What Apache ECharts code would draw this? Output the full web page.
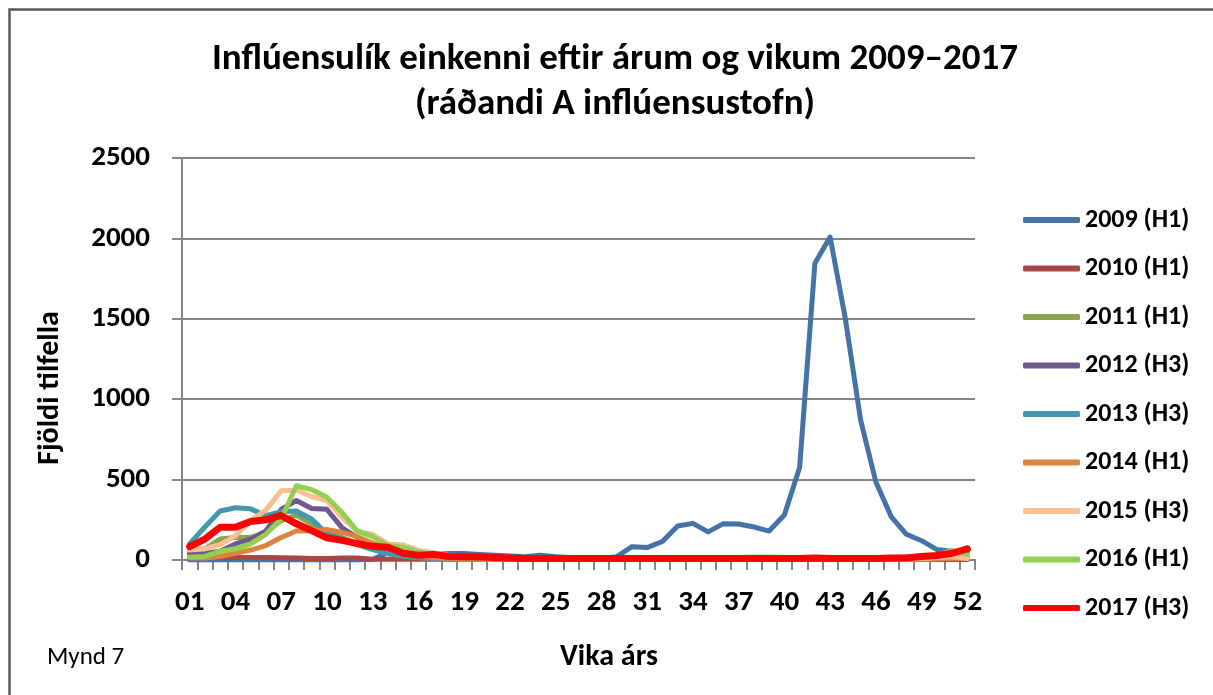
<!DOCTYPE html>
<html>
<head>
<meta charset="utf-8">
<title>Inflúensulík einkenni</title>
<script src="https://cdn.jsdelivr.net/npm/echarts@6/dist/echarts.min.js"></script>
<style>
  html, body { margin: 0; padding: 0; background: #fff; }
  #main { width: 1213px; height: 695px; }
</style>
</head>
<body>
<div id="main"></div>
<script>
// vikur og gildi lesin af myndinni
var weeks = ["01","02","03","04","05","06","07","08","09","10","11","12","13",
  "14","15","16","17","18","19","20","21","22","23","24","25","26",
  "27","28","29","30","31","32","33","34","35","36","37","38","39",
  "40","41","42","43","44","45","46","47","48","49","50","51","52"];
var yTicks = [0, 500, 1000, 1500, 2000, 2500];

var y2009 = [0,0,0,0,0,0,0,0,0,0,0,0,5,45,50,40,35,40,40,35,30,25,20,30,20,15,
  10,8,20,83,77,115,211,228,175,226,224,205,180,280,575,1845,2008,1500,870,485,270,160,120,65,55,45];
var y2010 = [15,18,15,15,15,15,14,12,10,10,12,12,5,5,5,5,4,4,3,3,3,3,3,3,3,3,
  3,3,3,3,3,3,3,3,3,3,3,3,3,3,3,3,3,3,3,3,3,3,3,3,3,3];
var y2011 = [48,70,130,140,140,170,245,280,225,175,140,100,70,40,25,15,10,6,5,5,5,5,5,5,5,5,
  5,5,5,5,5,5,5,5,5,5,5,5,5,5,5,5,5,5,5,5,5,5,8,10,12,15];
var y2012 = [37,40,55,100,130,180,315,370,320,315,200,140,100,60,40,25,15,10,5,5,5,5,5,5,5,5,
  5,5,5,5,5,5,5,5,5,5,5,5,5,5,5,5,5,5,5,5,5,5,5,8,10,12];
var y2013 = [100,205,305,325,318,275,300,305,255,165,130,95,65,40,25,15,10,5,5,5,5,5,5,5,5,5,
  5,5,5,5,5,5,5,5,5,5,5,5,5,5,5,5,5,5,5,5,5,5,5,8,10,12];
var y2014 = [12,12,22,42,62,90,140,180,182,190,172,145,105,70,45,28,15,10,5,5,5,5,5,5,5,5,
  5,5,5,5,5,5,5,5,5,5,5,5,5,5,5,5,5,5,5,5,5,5,5,8,10,12];
var y2015 = [62,70,96,150,245,310,430,435,395,370,265,178,160,100,95,60,45,30,20,15,10,10,10,10,10,8,
  8,8,8,8,8,8,8,8,8,8,8,8,8,8,8,8,8,8,8,8,8,8,10,15,20,10];
var y2016 = [17,22,55,70,100,160,255,462,438,390,295,180,145,90,80,50,35,20,15,10,10,10,10,10,10,10,
  10,10,12,15,15,15,12,12,12,15,15,18,18,15,12,12,12,12,15,15,15,18,25,30,60,35];
var y2017 = [83,130,204,204,240,250,277,225,183,138,122,102,85,80,42,30,35,22,20,18,15,12,10,10,10,10,
  10,10,10,10,10,10,10,10,10,10,10,10,10,10,10,12,10,10,10,10,12,13,22,28,42,69];

var seriesNames = ["2009 (H1)","2010 (H1)","2011 (H1)","2012 (H3)","2013 (H3)",
  "2014 (H1)","2015 (H3)","2016 (H1)","2017 (H3)"];
var seriesData = [y2009, y2010, y2011, y2012, y2013, y2014, y2015, y2016, y2017];
var colors = ["#4572A7","#AA4643","#89A54E","#71588F","#4198AF","#DB843D","#FAC090","#92D050","#FF0000"];
var widths = [5,5,5,5,5,5,5,5,7];

var FONT = "Carlito, Lato, 'Open Sans', sans-serif";
var axisGrey = "#868686";

var chart = echarts.init(document.getElementById('main'));

var series = seriesNames.map(function (name, i) {
  return {
    name: name,
    type: 'line',
    data: seriesData[i],
    showSymbol: false,
    symbol: 'none',
    smooth: false,
    animation: false,
    lineStyle: { color: colors[i], width: widths[i], cap: 'round', join: 'round' },
    itemStyle: { color: colors[i] }
  };
});

var option = {
  backgroundColor: '#fff',
  color: colors,
  animation: false,
  title: {
    text: 'Inflúensulík einkenni eftir árum og vikum 2009\u20132017\n(ráðandi A inflúensustofn)',
    left: 610,
    textAlign: 'center',
    top: 32,
    textStyle: { fontFamily: FONT, fontWeight: 'bold', fontSize: 37, lineHeight: 45, color: '#000' }
  },
  legend: {
    orient: 'vertical',
    left: 1023,
    top: 207,
    padding: 0,
    icon: 'roundRect',
    itemWidth: 57,
    itemHeight: 6,
    itemGap: 22.5,
    data: seriesNames,
    selectedMode: false,
    textStyle: { fontFamily: FONT, fontWeight: 'bold', fontSize: 26, lineHeight: 24, color: '#000' }
  },
  grid: { left: 182, right: 238, top: 158, bottom: 135, containLabel: false },
  xAxis: {
    type: 'category',
    data: weeks,
    boundaryGap: true,
    axisLine: { lineStyle: { color: axisGrey, width: 2 } },
    axisTick: { show: true, interval: 0, length: 10, lineStyle: { color: axisGrey, width: 2 } },
    axisLabel: {
      interval: 2, margin: 28,
      fontFamily: FONT, fontWeight: 'bold', fontSize: 29, color: '#000'
    },
    splitLine: { show: false }
  },
  yAxis: {
    type: 'value',
    min: yTicks[0],
    max: yTicks[yTicks.length - 1],
    interval: 500,
    axisLine: { show: true, lineStyle: { color: axisGrey, width: 2 } },
    axisTick: { show: true, length: 10, lineStyle: { color: axisGrey, width: 2 } },
    axisLabel: {
      margin: 32, fontFamily: FONT, fontWeight: 'bold', fontSize: 29, color: '#000',
      formatter: function (v) { return String(v); }
    },
    splitLine: { show: true, lineStyle: { color: axisGrey, width: 2 } }
  },
  graphic: [
    {
      type: 'rect', left: 7, top: 7, silent: true,
      shape: { width: 1205, height: 700 },
      style: { fill: 'none', stroke: '#595959', lineWidth: 2.5 }
    },
    {
      type: 'text', x: 50, y: 388, rotation: Math.PI / 2,
      style: {
        text: 'Fjöldi tilfella', fontFamily: FONT, fontWeight: 'bold', fontSize: 30,
        fill: '#000', align: 'center', verticalAlign: 'middle'
      }
    },
    {
      type: 'text', x: 609, y: 657,
      style: {
        text: 'Vika árs', fontFamily: FONT, fontWeight: 'bold', fontSize: 30,
        fill: '#000', align: 'center', verticalAlign: 'middle'
      }
    },
    {
      type: 'text', x: 47, y: 658,
      style: {
        text: 'Mynd 7', fontFamily: FONT, fontSize: 25,
        fill: '#000', align: 'left', verticalAlign: 'middle'
      }
    }
  ],
  series: series
};

chart.setOption(option);
</script>
</body>
</html>
